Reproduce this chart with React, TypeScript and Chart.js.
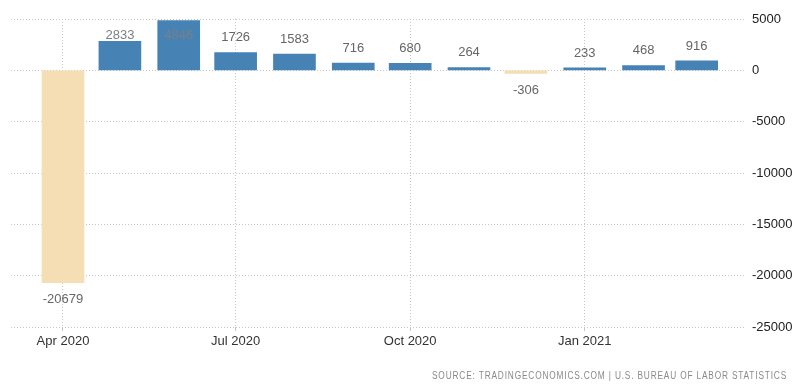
import React, { useEffect, useRef } from "react";
import { Chart, registerables } from "chart.js";

Chart.register(...registerables);

const months = ["Apr 2020", "May 2020", "Jun 2020", "Jul 2020", "Aug 2020", "Sep 2020", "Oct 2020", "Nov 2020", "Dec 2020", "Jan 2021", "Feb 2021", "Mar 2021"];
// days since 1 Apr 2020 for the first of each month
const dayOffsets = [0, 30, 61, 91, 122, 153, 183, 214, 244, 275, 306, 334];
const values = [-20679, 2833, 4846, 1726, 1583, 716, 680, 264, -306, 233, 468, 916];
const tickDays = [0, 91, 183, 275];
const tickLabels = ["Apr 2020", "Jul 2020", "Oct 2020", "Jan 2021"];
const yTicks = [5000, 0, -5000, -10000, -15000, -20000, -25000];
const sourceText = "SOURCE: TRADINGECONOMICS.COM | U.S. BUREAU OF LABOR STATISTICS";

const POS = "#4682b4";
const NEG = "#f5deb3";

const labelPlugin = {
  id: "valueLabels",
  afterDatasetsDraw(chart: any) {
    const ctx = chart.ctx;
    const meta = chart.getDatasetMeta(0);
    const area = chart.chartArea;
    ctx.save();
    ctx.font = "13px 'Liberation Sans', Arial, sans-serif";
    ctx.textAlign = "center";
    ctx.textBaseline = "middle";
    meta.data.forEach((el: any, i: number) => {
      const v = values[i];
      let y: number;
      if (v >= 0) {
        y = Math.max(el.y - 15, area.top + 16);
        ctx.fillStyle = el.y - 15 < area.top + 16 ? "#7a7f88" : "#666666";
      } else {
        y = el.y + 16.5;
        ctx.fillStyle = "#666666";
      }
      ctx.fillText(String(v), el.x, y);
    });
    // source line
    ctx.font = "10px 'Liberation Sans', Arial, sans-serif";
    (ctx as any).letterSpacing = "1px";
    ctx.textAlign = "left";
    ctx.fillStyle = "#8a8a8a";
    const w = ctx.measureText(sourceText).width;
    const target = 355;
    ctx.translate(432, 376);
    ctx.scale(target / w, 1);
    ctx.fillText(sourceText, 0, 0);
    ctx.restore();
  },
};

export default function App() {
  const ref = useRef<HTMLCanvasElement | null>(null);
  useEffect(() => {
    if (!ref.current) return;
    const chart = new Chart(ref.current, {
      type: "bar",
      data: {
        datasets: [
          {
            label: "Change",
            data: dayOffsets.map((d, i) => ({ x: d, y: values[i] })),
            backgroundColor: values.map((v) => (v >= 0 ? POS : NEG)),
            barThickness: 42,
            borderWidth: 0,
          },
        ],
      },
      options: {
        responsive: false,
        animation: false,
        events: [],
        layout: { padding: { left: 11, top: 19, right: 0, bottom: 0 } },
        plugins: { legend: { display: false }, tooltip: { enabled: false } },
        scales: {
          x: {
            type: "linear",
            offset: false,
            min: -27.4,
            max: 360,
            afterBuildTicks: (scale: any) => {
              scale.ticks = tickDays.map((v) => ({ value: v }));
            },
            afterFit: (scale: any) => {
              scale.height = 60;
            },
            ticks: {
              autoSkip: false,
              maxRotation: 0,
              padding: 3,
              color: "#333333",
              font: { family: "'Liberation Sans', Arial, sans-serif", size: 13 },
              callback: (v: any) => {
                const idx = tickDays.indexOf(Number(v));
                return idx >= 0 ? tickLabels[idx] : "";
              },
            },
            grid: { offset: false, color: "#c8c8c8", lineWidth: 1, tickLength: 4, drawTicks: true },
            border: { display: false, dash: [1, 2] },
          },
          y: {
            position: "right",
            min: -25000,
            max: 5000,
            afterBuildTicks: (scale: any) => {
              scale.ticks = yTicks.map((v) => ({ value: v }));
            },
            afterFit: (scale: any) => {
              scale.width = 54;
            },
            ticks: {
              padding: 6,
              color: "#222222",
              font: { family: "'Liberation Sans', Arial, sans-serif", size: 13 },
              callback: (v: any) => String(v),
            },
            grid: { color: "#c8c8c8", lineWidth: 1, drawTicks: false },
            border: { display: false, dash: [1, 2] },
          },
        },
      },
      plugins: [labelPlugin],
    } as any);
    return () => chart.destroy();
  }, []);
  return (
    <div style={{ position: "fixed", left: 0, top: 0, width: 800, height: 387, background: "#ffffff" }}>
      <canvas ref={ref} width={800} height={387} />
    </div>
  );
}
